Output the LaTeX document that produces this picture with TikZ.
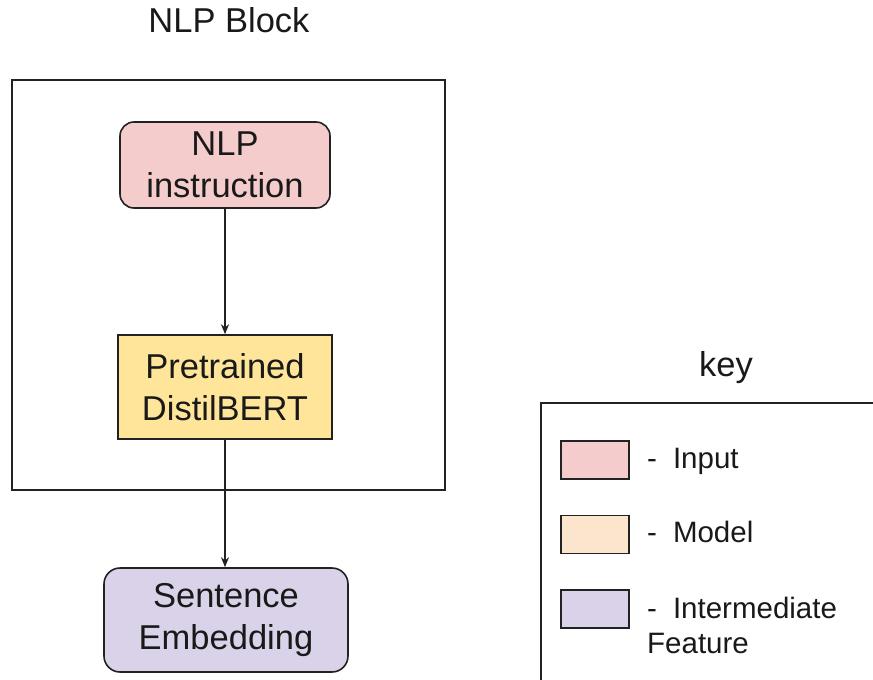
\documentclass[tikz,border=0pt]{standalone}
\usepackage{fontspec}
\setmainfont{Liberation Sans}
\usetikzlibrary{arrows.meta}
\definecolor{inpink}{HTML}{F4CCCC}
\definecolor{modyellow}{HTML}{FFE599}
\definecolor{keypeach}{HTML}{FCE5CD}
\definecolor{featlilac}{HTML}{D9D2E9}
\definecolor{edge}{HTML}{222222}
\tikzset{
  blockbox/.style={draw=edge, line width=1.6pt, align=center, inner sep=0pt,
    font=\fontsize{34.5}{41.5}\selectfont, text=black!90},
  swatch/.style={draw=edge, line width=1.6pt, minimum width=68pt, minimum height=38pt, inner sep=0pt},
  keytext/.style={anchor=base west, inner sep=0pt, align=left,
    font=\fontsize{29.5}{34.5}\selectfont, text=black!90},
  flow/.style={draw=edge, line width=1.6pt, -{Stealth[length=10pt,width=8pt]}},
  frame/.style={draw=edge, line width=1.8pt}
}
\begin{document}
\begin{tikzpicture}[x=1pt,y=-1pt]
\useasboundingbox (0,0) rectangle (873,680);
\clip (0,0) rectangle (873,680);

% title and outer block frame
\node[anchor=base, inner sep=0pt, font=\fontsize{34.5}{41.5}\selectfont, text=black!90] (title) at (229,32) {NLP Block};
\draw[frame] (12,80) rectangle (445,490);

% pipeline boxes
\node[blockbox, fill=inpink, rounded corners=14pt, minimum width=210pt, minimum height=86pt] (nlp) at (225,165) {NLP\\instruction};
\node[blockbox, fill=modyellow, minimum width=214pt, minimum height=104pt] (bert) at (225,387) {Pretrained\\DistilBERT};
\node[blockbox, fill=featlilac, rounded corners=16pt, minimum width=244pt, minimum height=104pt] (sent) at (226,620) {Sentence\\Embedding};

% connectors
\draw[flow] (nlp.south) -- (nlp.south |- bert.north);
\draw[flow] (bert.south) -- (bert.south |- sent.north);

% key
\node[anchor=base, inner sep=0pt, font=\fontsize{34.5}{41.5}\selectfont, text=black!90] (keytitle) at (726,376) {key};
\draw[frame] (541,700) -- (541,403) -- (890,403);

\node[swatch, fill=inpink] (kin) at (595,460) {};
\node[swatch, fill=keypeach] (kmod) at (595,534.5) {};
\node[swatch, fill=featlilac] (kfeat) at (595,609) {};

\node[keytext] (tin) at (647,468) {-\hspace{16pt}Input};
\node[keytext] (tmod) at (647,542) {-\hspace{16pt}Model};
% a multi-line node sits on the baseline of its last line
\node[keytext] (tfeat) at (647,653) {-\hspace{16pt}Intermediate\\Feature};
\end{tikzpicture}
\end{document}
